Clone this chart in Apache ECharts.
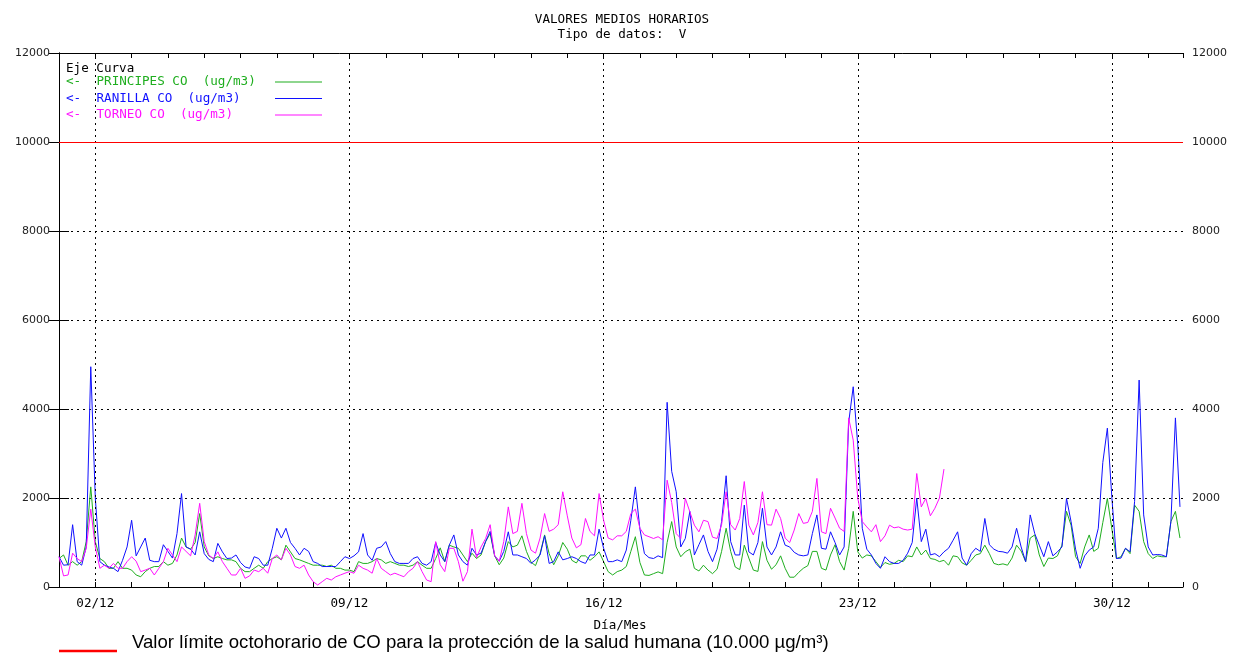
<!DOCTYPE html>
<html>
<head>
<meta charset="utf-8">
<script src="https://cdn.jsdelivr.net/npm/echarts@6/dist/echarts.min.js"></script>
<style>
html,body{margin:0;padding:0;background:#fff;}
#chart{width:1244px;height:659px;}
</style>
</head>
<body>
<div id="chart"></div>
<script>
// Hourly means, December — sampled every 3 hours (hour 0 = 01/12 00:00)
const STEP_HOURS = 3;

// PRINCIPES CO (ug/m3) — one row per day
const principes = [
  640, 720, 490, 570, 490, 570, 1020, 2250,
  1020, 640, 570, 420, 420, 570, 420, 420,
  380, 270, 230, 345, 420, 460, 460, 570,
  490, 530, 720, 1100, 900, 850, 1000, 1650,
  900, 700, 640, 680, 640, 610, 610, 570,
  420, 345, 345, 420, 490, 420, 570, 640,
  680, 610, 940, 790, 640, 610, 570, 530,
  490, 490, 490, 460, 490, 420, 420, 380,
  380, 345, 570, 530, 530, 570, 640, 610,
  530, 570, 530, 490, 490, 460, 490, 570,
  490, 420, 420, 640, 880, 570, 940, 900,
  870, 720, 570, 760, 640, 720, 1020, 1200,
  700, 500, 650, 1020, 900, 940, 1150, 800,
  560, 480, 750, 1170, 750, 500, 700, 1000,
  850, 600, 540, 700, 700, 600, 680, 790,
  570, 345, 270, 345, 380, 460, 800, 1130,
  550, 270, 260, 300, 340, 300, 1000, 1470,
  900, 680, 790, 850, 420, 360, 490, 380,
  300, 400, 800, 1320, 800, 450, 390, 940,
  650, 380, 350, 1020, 600, 400, 500, 700,
  420, 220, 220, 330, 420, 480, 800, 800,
  420, 380, 720, 950, 570, 380, 870, 1700,
  790, 650, 720, 700, 570, 440, 550, 510,
  530, 600, 570, 700, 680, 900, 720, 830,
  640, 620, 570, 600, 490, 700, 680, 540,
  490, 600, 720, 750, 940, 750, 530, 500,
  520, 490, 650, 940, 810, 570, 1100, 1170,
  720, 460, 650, 640, 700, 940, 1700, 1390,
  680, 530, 900, 1170, 800, 870, 1450, 1990,
  1300, 640, 680, 870, 750, 1840, 1700, 1020,
  750, 640, 700, 680, 680, 1470, 1700, 1100
];

// RANILLA CO (ug/m3)
const ranilla = [
  680, 490, 500, 1400, 570, 490, 900, 4950,
  2000, 570, 490, 450, 420, 345, 600, 900,
  1500, 700, 900, 1100, 600, 570, 570, 950,
  800, 650, 1200, 2100, 900, 850, 720, 1240,
  750, 620, 570, 980, 790, 640, 650, 720,
  550, 450, 420, 680, 640, 490, 490, 870,
  1320, 1100, 1320, 1000, 870, 720, 870, 800,
  570, 530, 460, 460, 460, 460, 570, 680,
  640, 700, 790, 1200, 720, 600, 870, 900,
  1020, 750, 570, 530, 530, 530, 640, 680,
  530, 490, 570, 1000, 720, 570, 940, 1170,
  720, 570, 490, 870, 720, 760, 1020, 1250,
  700, 580, 800, 1240, 720, 720, 680, 640,
  530, 610, 720, 1150, 530, 570, 790, 610,
  640, 680, 640, 570, 530, 720, 720, 1300,
  870, 570, 570, 610, 570, 830, 1500, 2250,
  1300, 750, 660, 640, 700, 660, 4150, 2600,
  2140, 900, 1090, 1700, 720, 950, 1170, 800,
  570, 850, 1470, 2500, 1020, 720, 720, 1840,
  790, 720, 1000, 1770, 900, 720, 900, 1240,
  940, 900, 780, 720, 700, 720, 1200, 1620,
  870, 850, 1240, 1000, 720, 900, 3700, 4500,
  3200, 1320, 850, 720, 530, 420, 680, 570,
  530, 530, 600, 760, 1000, 2000, 1020, 1300,
  720, 750, 680, 790, 870, 1050, 1240, 650,
  490, 750, 870, 800, 1540, 950, 850, 800,
  790, 760, 900, 1320, 900, 570, 1620, 1200,
  940, 680, 1020, 700, 790, 900, 1990, 1470,
  850, 420, 700, 830, 900, 1320, 2800, 3570,
  2000, 640, 650, 870, 790, 1920, 4650, 1620,
  900, 720, 730, 720, 680, 1470, 3800, 1800
];

// TORNEO CO (ug/m3) — data ends on 25/12
const torneo = [
  680, 250, 270, 760, 640, 570, 870, 1750,
  900, 420, 490, 420, 530, 420, 420, 570,
  680, 580, 345, 380, 420, 270, 420, 570,
  870, 720, 570, 900, 800, 700, 1170, 1880,
  1020, 720, 640, 790, 570, 420, 270, 270,
  420, 195, 250, 380, 345, 420, 310, 640,
  720, 610, 870, 720, 460, 420, 490, 270,
  120, 45, 120, 195, 157, 230, 270, 310,
  345, 310, 490, 420, 380, 310, 640, 420,
  345, 270, 310, 270, 230, 345, 420, 570,
  345, 157, 120, 1020, 500, 345, 870, 870,
  570, 130, 345, 1300, 660, 900, 1090, 1400,
  700, 580, 1020, 1800, 1200, 1250, 1880, 1200,
  830, 760, 1100, 1650, 1250, 1300, 1400, 2140,
  1600, 1100, 880, 950, 1540, 1250, 1150, 2100,
  1500, 1100, 1060, 1150, 1150, 1250, 1650, 1750,
  1320, 1170, 1130, 1090, 1130, 1060, 2400, 1900,
  1200, 1090, 1990, 1690, 1390, 1240, 1500, 1470,
  1120, 1090, 1400, 2140, 1400, 1280, 1540, 2370,
  1390, 1170, 1450, 2140, 1400, 1390, 1750, 1540,
  1100, 1000, 1280, 1650, 1430, 1450, 1700, 2440,
  1240, 1200, 1770, 1550, 1320, 1250, 3800, 3300,
  2000, 1470, 1350, 1240, 1400, 1020, 1150, 1390,
  1330, 1350, 1300, 1280, 1300, 2550, 1800, 1990,
  1600, 1770, 2000, 2650
];

const weekTickHours  = [24, 192, 360, 528, 696];
const weekTickLabels = ['02/12', '09/12', '16/12', '23/12', '30/12'];
const limitValue = 10000;

const seriesNames = ['PRINCIPES CO  (ug/m3)', 'RANILLA CO  (ug/m3)', 'TORNEO CO  (ug/m3)'];
const seriesColors = ['#1fae1f', '#1010ff', '#ff10ff'];

function toPairs(arr) { return arr.map((v, i) => [i * STEP_HOURS, v]); }

const MONO = '"DejaVu Sans Mono", monospace';
const chart = echarts.init(document.getElementById('chart'), null, {renderer: 'canvas'});

const xAxisBase = {
  type: 'value', min: 0, max: 743, interval: 24,
  axisLine: {show: true, onZero: false, lineStyle: {color: '#000', width: 1}},
  axisTick: {show: true, inside: true, length: 5, lineStyle: {color: '#000'}},
  splitLine: {show: false}
};
const yAxisBase = {
  type: 'value', min: 0, max: 12000, interval: 2000,
  axisLine: {show: true, lineStyle: {color: '#000', width: 1}},
  axisTick: {show: true, inside: true, length: 10, lineStyle: {color: '#000'}},
  axisLabel: {color: '#222', fontFamily: '"DejaVu Sans", sans-serif', fontSize: 11, margin: 9,
              formatter: function (v) { return String(v); }}
};

const legendGraphics = [];
legendGraphics.push({type: 'text', left: 66, top: 62, style: {text: 'Eje Curva', fill: '#000', font: '12.6px ' + MONO}});
seriesNames.forEach((name, i) => {
  const y = 82 + i * 16.5;
  legendGraphics.push({type: 'text', x: 66, y: y, style: {text: '<-', fill: seriesColors[i], font: '12.6px ' + MONO, textVerticalAlign: 'middle'}});
  legendGraphics.push({type: 'text', x: 96.5, y: y, style: {text: name, fill: seriesColors[i], font: '12.6px ' + MONO, textVerticalAlign: 'middle'}});
  legendGraphics.push({type: 'line', shape: {x1: 275, y1: y, x2: 322, y2: y}, style: {stroke: seriesColors[i], lineWidth: 1.2}});
});

const option = {
  animation: false,
  backgroundColor: '#fff',
  title: {
    text: 'VALORES MEDIOS HORARIOS\nTipo de datos:  V',
    left: 'center', top: 7,
    textStyle: {fontFamily: MONO, fontSize: 12.6, fontWeight: 'normal', color: '#000', lineHeight: 15}
  },
  grid: {left: 59, top: 53, width: 1124, height: 534, containLabel: false},
  xAxis: [
    Object.assign({}, xAxisBase, {
      position: 'bottom',
      axisLabel: {
        show: true, margin: 10, color: '#000', fontFamily: MONO, fontSize: 12.6,
        formatter: function (v) { const k = weekTickHours.indexOf(v); return k >= 0 ? weekTickLabels[k] : ''; }
      }
    }),
    Object.assign({}, xAxisBase, {position: 'top', axisLabel: {show: false}})
  ],
  yAxis: [
    Object.assign({}, yAxisBase, {
      position: 'left',
      splitLine: {show: true, lineStyle: {color: '#000', type: [2, 4], width: 1}}
    }),
    Object.assign({}, yAxisBase, {position: 'right', splitLine: {show: false}})
  ],
  series: [
    {
      name: seriesNames[0], type: 'line', data: toPairs(principes), showSymbol: false,
      lineStyle: {color: seriesColors[0], width: 1}, itemStyle: {color: seriesColors[0]}, z: 3,
      markLine: {
        silent: true, symbol: 'none', label: {show: false},
        lineStyle: {color: '#000', type: [2, 4], width: 1},
        data: weekTickHours.map(h => ({xAxis: h}))
      }
    },
    {
      name: seriesNames[1], type: 'line', data: toPairs(ranilla), showSymbol: false,
      lineStyle: {color: seriesColors[1], width: 1}, itemStyle: {color: seriesColors[1]}, z: 4,
      markLine: {
        silent: true, symbol: 'none', label: {show: false},
        lineStyle: {color: '#ff0000', type: 'solid', width: 1.2},
        data: [{yAxis: limitValue}]
      }
    },
    {
      name: seriesNames[2], type: 'line', data: toPairs(torneo), showSymbol: false,
      lineStyle: {color: seriesColors[2], width: 1}, itemStyle: {color: seriesColors[2]}, z: 5
    }
  ],
  graphic: legendGraphics.concat([
    {type: 'text', x: 620, y: 626, style: {text: 'Día/Mes', fill: '#000', font: '12.6px ' + MONO, textAlign: 'center', textVerticalAlign: 'middle'}},
    {type: 'line', shape: {x1: 59, y1: 651, x2: 117, y2: 651}, style: {stroke: '#ff0000', lineWidth: 2.5}},
    {type: 'text', x: 132, y: 643, style: {text: 'Valor límite octohorario de CO para la protección de la salud humana (10.000 µg/m³)', fill: '#000', font: '18.6px "Liberation Sans", Arial, sans-serif', textVerticalAlign: 'middle'}}
  ])
};
chart.setOption(option);
</script>
</body>
</html>
